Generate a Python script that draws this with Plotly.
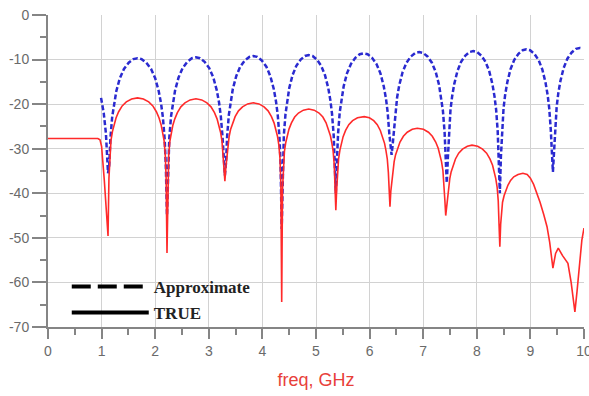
import plotly.graph_objects as go

# ---------------- TRUE (red, solid) ----------------
true_x = [0, 0.5, 0.93, 0.97, 1.0, 1.05, 1.09, 1.12,
          1.137, 1.153, 1.175, 1.203, 1.23, 1.269, 1.318, 1.384, 1.461, 1.56, 1.67, 1.78, 1.879, 1.956, 2.022, 2.072, 2.11, 2.138, 2.165, 2.187, 2.204, 2.22,
          2.236, 2.252, 2.274, 2.301, 2.328, 2.366, 2.414, 2.479, 2.555, 2.652, 2.76, 2.868, 2.965, 3.041, 3.106, 3.154, 3.192, 3.219, 3.246, 3.268, 3.284, 3.3,
          3.316, 3.332, 3.353, 3.38, 3.406, 3.443, 3.491, 3.554, 3.629, 3.724, 3.83, 3.936, 4.031, 4.106, 4.169, 4.217, 4.254, 4.281, 4.307, 4.328, 4.344, 4.36,
          4.375, 4.39, 4.411, 4.436, 4.461, 4.496, 4.542, 4.602, 4.673, 4.764, 4.865, 4.966, 5.057, 5.128, 5.188, 5.234, 5.269, 5.294, 5.32, 5.34, 5.355, 5.37,
          5.385, 5.4, 5.421, 5.446, 5.471, 5.506, 5.552, 5.612, 5.683, 5.774, 5.9, 5.996, 6.077, 6.143, 6.2, 6.244, 6.279, 6.304, 6.33, 6.35, 6.365, 6.38,
          6.396, 6.411, 6.432, 6.458, 6.484, 6.52, 6.567, 6.63, 6.702, 6.796, 6.89, 7.004, 7.098, 7.17, 7.233, 7.28, 7.316, 7.342, 7.368, 7.389, 7.404, 7.42,
          7.435, 7.45, 7.471, 7.496, 7.521, 7.556, 7.602, 7.662, 7.733, 7.824, 7.91, 8.016, 8.107, 8.183, 8.245, 8.294, 8.329, 8.354, 8.38, 8.4, 8.415, 8.43,
          8.445, 8.46, 8.48, 8.51, 8.54, 8.58, 8.63, 8.69, 8.77, 8.86, 8.94, 9.0, 9.06, 9.12, 9.18, 9.25, 9.31, 9.36, 9.42,
          9.47, 9.52, 9.6, 9.7, 9.76, 9.83, 9.87, 9.92, 9.96, 10.0]
true_y = [-27.7, -27.7, -27.7, -28.0, -29.5, -37, -44, -49.6,
          -36.6, -31.1, -28.1, -26.1, -24.6, -23.1, -21.7, -20.4, -19.5, -18.85, -18.6, -18.85, -19.5, -20.4, -21.7, -23.1, -24.6, -26.1, -28.1, -31.1, -36.6, -53.4,
          -36.8, -31.3, -28.3, -26.3, -24.8, -23.3, -21.9, -20.6, -19.7, -19.05, -18.8, -19.05, -19.7, -20.6, -21.9, -23.3, -24.8, -26.3, -28.3, -31.3, -34.3, -37.3,
          -34.5, -32.2, -29.2, -27.2, -25.7, -24.2, -22.8, -21.5, -20.6, -19.95, -19.7, -19.95, -20.6, -21.5, -22.8, -24.2, -25.7, -27.2, -29.2, -32.2, -37.7, -64.4,
          -39.1, -33.6, -30.6, -28.6, -27.1, -25.6, -24.2, -22.9, -22.0, -21.35, -21.1, -21.35, -22.0, -22.9, -24.2, -25.6, -27.1, -28.6, -30.6, -33.6, -38.7, -43.8,
          -39.3, -35.3, -32.3, -30.3, -28.8, -27.3, -25.9, -24.6, -23.7, -23.05, -22.8, -23.05, -23.7, -24.6, -25.9, -27.3, -28.8, -30.3, -32.3, -35.3, -39.2, -43.0,
          -39.5, -37.9, -34.9, -32.9, -31.4, -29.9, -28.5, -27.2, -26.3, -25.65, -25.4, -25.65, -26.3, -27.2, -28.5, -29.9, -31.4, -32.9, -34.9, -37.9, -41.5, -45.0,
          -43.0, -41.7, -38.7, -36.7, -35.2, -33.7, -32.3, -31.0, -30.1, -29.45, -29.2, -29.45, -30.1, -31.0, -32.3, -33.7, -35.2, -36.7, -38.7, -41.7, -47.0, -52.0,
          -47.0, -44.5, -42.0, -40.5, -39.3, -38.2, -37.1, -36.3, -35.8, -35.5, -35.8, -36.6, -38.0, -39.8, -42.0, -44.8, -47.5, -51.0, -56.8,
          -53.5, -52.3, -54.0, -55.7, -60.0, -66.6, -62.0, -55.0, -50.5, -47.8]

# ---------------- Approximate (blue, dashed) ----------------
approx_x = [0.99, 1.04, 1.08, 1.1, 1.12,
            1.142, 1.164, 1.197, 1.23, 1.274, 1.34, 1.417, 1.505, 1.593, 1.67, 1.747, 1.835, 1.923, 2.0, 2.066, 2.11, 2.143, 2.176, 2.198, 2.22,
            2.242, 2.263, 2.296, 2.328, 2.371, 2.436, 2.512, 2.598, 2.684, 2.76, 2.836, 2.922, 3.008, 3.084, 3.149, 3.192, 3.224, 3.257, 3.278, 3.3,
            3.321, 3.342, 3.374, 3.406, 3.448, 3.512, 3.586, 3.671, 3.756, 3.83, 3.904, 3.989, 4.074, 4.148, 4.212, 4.254, 4.286, 4.318, 4.339, 4.36,
            4.38, 4.4, 4.431, 4.461, 4.501, 4.562, 4.633, 4.714, 4.794, 4.865, 4.936, 5.017, 5.097, 5.168, 5.229, 5.269, 5.299, 5.33, 5.35, 5.37,
            5.391, 5.412, 5.443, 5.474, 5.516, 5.578, 5.651, 5.734, 5.817, 5.89, 5.963, 6.046, 6.129, 6.202, 6.264, 6.306, 6.337, 6.368, 6.39, 6.41,
            6.431, 6.451, 6.482, 6.513, 6.554, 6.616, 6.688, 6.771, 6.853, 6.925, 6.997, 7.08, 7.162, 7.234, 7.296, 7.337, 7.368, 7.399, 7.419, 7.44,
            7.46, 7.48, 7.509, 7.539, 7.579, 7.638, 7.707, 7.787, 7.866, 7.935, 8.004, 8.084, 8.163, 8.232, 8.291, 8.331, 8.361, 8.39, 8.41, 8.43,
            8.45, 8.47, 8.499, 8.529, 8.569, 8.628, 8.697, 8.777, 8.856, 8.925, 8.994, 9.074, 9.153, 9.222, 9.281, 9.321, 9.351, 9.38, 9.4, 9.42,
            9.44, 9.46, 9.49, 9.52, 9.56, 9.62, 9.69, 9.77, 9.85, 9.92, 9.97]
approx_y = [-18.6, -22.0, -26.5, -30.0, -35.5,
            -33.7, -27.7, -22.9, -19.9, -17.1, -14.2, -12.1, -10.7, -9.9, -9.7, -9.9, -10.7, -12.1, -14.2, -17.1, -19.9, -22.9, -27.7, -33.7, -45.0,
            -33.5, -27.5, -22.7, -19.7, -16.9, -14.0, -11.9, -10.5, -9.7, -9.5, -9.7, -10.5, -11.9, -14.0, -16.9, -19.7, -22.7, -27.5, -33.0, -36.0,
            -33.2, -27.2, -22.4, -19.4, -16.6, -13.7, -11.6, -10.2, -9.4, -9.2, -9.4, -10.2, -11.6, -13.7, -16.6, -19.4, -22.4, -27.2, -33.2, -48.0,
            -33.0, -27.0, -22.2, -19.2, -16.4, -13.5, -11.4, -10.0, -9.2, -9.0, -9.2, -10.0, -11.4, -13.5, -16.4, -19.2, -22.2, -27.0, -33.0, -40.0,
            -32.6, -26.6, -21.8, -18.8, -16.0, -13.1, -11.0, -9.6, -8.8, -8.6, -8.8, -9.6, -11.0, -13.1, -16.0, -18.8, -21.8, -26.6, -29.5, -31.4,
            -29.0, -26.3, -21.5, -18.5, -15.7, -12.8, -10.7, -9.3, -8.5, -8.3, -8.5, -9.3, -10.7, -12.8, -15.7, -18.5, -21.5, -26.3, -32.3, -37.7,
            -32.1, -26.1, -21.3, -18.3, -15.5, -12.6, -10.5, -9.1, -8.3, -8.1, -8.3, -9.1, -10.5, -12.6, -15.5, -18.3, -21.3, -26.1, -32.1, -40.0,
            -31.7, -25.7, -20.9, -17.9, -15.1, -12.2, -10.1, -8.7, -7.9, -7.7, -7.9, -8.7, -10.1, -12.2, -15.1, -17.9, -20.9, -25.7, -31.0, -35.2,
            -31.0, -25.4, -20.6, -17.6, -14.8, -11.9, -9.8, -8.4, -7.6, -7.4, -7.5]

x_ticks = [0, 1, 2, 3, 4, 5, 6, 7, 8, 9, 10]
y_ticks = [0, -10, -20, -30, -40, -50, -60, -70]

fig = go.Figure()
fig.add_trace(go.Scatter(x=approx_x, y=approx_y, mode="lines", showlegend=False,
                         line=dict(color="#2a2ad0", width=2.5, dash="5px,2.5px")))
fig.add_trace(go.Scatter(x=true_x, y=true_y, mode="lines", showlegend=False,
                         line=dict(color="#ff2a2a", width=1.6)))
# legend entries (black symbols as in reference)
fig.add_trace(go.Scatter(x=[None], y=[None], mode="lines", name="Approximate", legend="legend",
                         line=dict(color="black", width=4, dash="19px,7px")))
fig.add_trace(go.Scatter(x=[None], y=[None], mode="lines", name="TRUE", legend="legend2",
                         line=dict(color="black", width=4)))

legend_font = dict(family="Liberation Serif", size=17, color="#222222", weight="bold")
fig.update_layout(
    width=589, height=396,
    margin=dict(l=48, r=5, t=15, b=69, autoexpand=False),
    paper_bgcolor="white", plot_bgcolor="white",
    font=dict(family="Liberation Sans", size=14, color="#6a6a6a"),
    legend=dict(x=0.035, y=0.128, xanchor="left", yanchor="middle", bgcolor="rgba(0,0,0,0)",
                font=legend_font, itemwidth=77),
    legend2=dict(x=0.035, y=0.045, xanchor="left", yanchor="middle", bgcolor="rgba(0,0,0,0)",
                 font=legend_font, itemwidth=77),
    xaxis=dict(range=[0, 10], tickvals=x_ticks, ticktext=[str(v) for v in x_ticks],
               ticklabeloverflow="allow", automargin=False,
               showgrid=True, gridcolor="#d2d2d2", gridwidth=1,
               showline=True, linecolor="#858585", linewidth=2,
               ticks="outside", ticklen=10, tickcolor="#858585", tickwidth=2,
               minor=dict(dtick=0.5, ticks="outside", ticklen=6, tickcolor="#858585", tickwidth=1.5, showgrid=False),
               zeroline=False,
               title=dict(text="freq, GHz", font=dict(family="Liberation Sans", size=18, color="#e8403a"), standoff=16)),
    yaxis=dict(range=[-70, 0], tickvals=y_ticks, ticktext=[str(v) for v in y_ticks],
               automargin=False,
               showgrid=True, gridcolor="#d2d2d2", gridwidth=1,
               showline=True, linecolor="#858585", linewidth=2,
               ticks="outside", ticklen=14, tickcolor="#858585", tickwidth=2,
               minor=dict(dtick=5, ticks="outside", ticklen=6, tickcolor="#858585", tickwidth=1.5, showgrid=False),
               zeroline=False),
)

fig.write_html("out.html")
